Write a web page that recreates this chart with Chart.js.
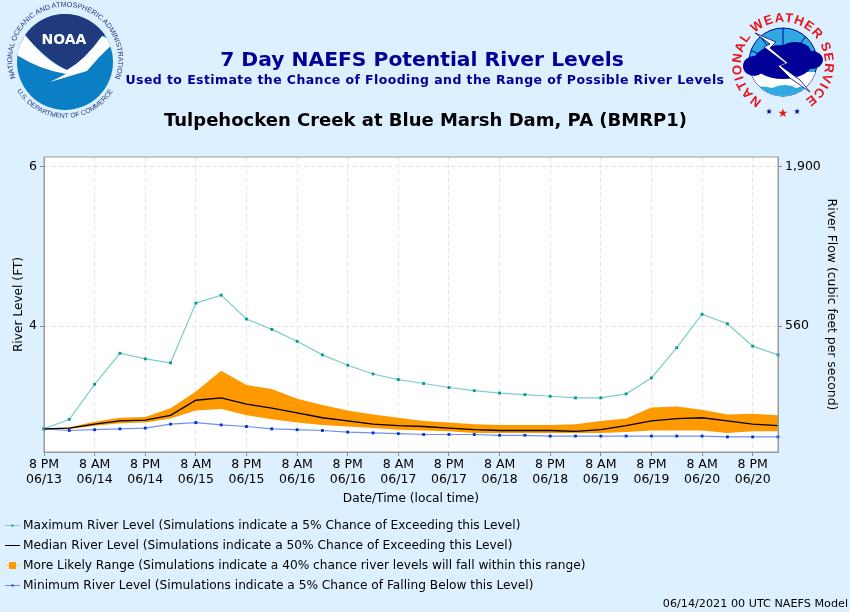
<!DOCTYPE html>
<html>
<head>
<meta charset="utf-8">
<title>7 Day NAEFS Potential River Levels</title>
<script src="https://cdn.jsdelivr.net/npm/chart.js@4/dist/chart.umd.min.js"></script>
<style>
    body { margin: 0; background: #ddf0ff; font-family: "DejaVu Sans", sans-serif; }
    #page { position: relative; width: 850px; height: 612px; overflow: hidden; }
    #chart { position: absolute; left: 0; top: 0; }
    .line { position: absolute; white-space: nowrap; text-align: center; }
    #title1 { left: 0; width: 844px; top: 47px; font-size: 20.3px; font-weight: bold; color: #000099; }
    #title2 { left: 0; width: 850px; top: 72px; font-size: 12.5px; font-weight: bold; color: #000099; letter-spacing: 0.42px; }
    #title3 { left: 0; width: 851px; top: 109px; font-size: 18px; font-weight: bold; color: #000; }
    #stamp { right: 2px; top: 597px; font-size: 11.2px; color: #000; }
    .legendRow { position: absolute; left: 5px; font-size: 12.2px; color: #000; white-space: nowrap; }
    .legendRow svg { position: absolute; left: 0; top: 0; }
    .legendRow span { position: absolute; left: 18px; top: 0; }
    svg.logo { position: absolute; left: 0; top: 0; }
</style>
</head>
<body>
<div id="page">
    <canvas id="chart" width="850" height="612"></canvas>

    <svg class="logo" width="850" height="130" viewBox="0 0 850 130">
        <defs>
            <path id="noaaTop" d="M 15.5 78 A 53 53 0 1 1 115 78"/>
            <path id="noaaBottom" d="M 12 80 A 56 56 0 0 0 118 80"/>
            <path id="nwsArc" d="M 762 100.4 A 42 42 0 1 1 804 100.4"/>
            <clipPath id="noaaClip"><circle cx="65" cy="62" r="48"/></clipPath>
            <clipPath id="nwsClip"><circle cx="783" cy="62" r="34"/></clipPath>
        </defs>
        <circle cx="65" cy="62" r="48" fill="#0a7fc6"/>
        <g clip-path="url(#noaaClip)">
            <path d="M 10 10 H 120 V 30 L 102 36 Q 85 60 67 70 Q 47 60 25 35 L 10 25 Z" fill="#1f3a7d"/>
            <path d="M 25 35 Q 47 62 67 70 Q 85 60 102 36 L 115 42 Q 100 55 87 71 L 50 82 L 66 74 Q 40 70 15 54 Z" fill="#fff"/>
        </g>
        <text x="64" y="44" text-anchor="middle" font-size="14" font-weight="bold" fill="#fff" font-family="DejaVu Sans">NOAA</text>
        <text font-size="7.2" fill="#1f3a7d" font-family="Liberation Sans"><textPath href="#noaaTop" startOffset="50%" text-anchor="middle">NATIONAL OCEANIC AND ATMOSPHERIC ADMINISTRATION</textPath></text>
        <text font-size="6.8" fill="#1f3a7d" font-family="Liberation Sans"><textPath href="#noaaBottom" startOffset="50%" text-anchor="middle">U.S. DEPARTMENT OF COMMERCE</textPath></text>

        <circle cx="783" cy="62" r="34" fill="#2fa9e0" stroke="#000099" stroke-width="1"/>
        <g clip-path="url(#nwsClip)">
            <path d="M 783 28 V 50 M 760 36 L 772 52 M 806 36 L 794 52 M 750 50 L 768 58 M 816 50 L 798 58" stroke="#000099" stroke-width="1"/>
            <rect x="749" y="72" width="68" height="26" fill="#fff"/>
            <path d="M 749 90 Q 760 84 772 88 Q 786 82 796 88 Q 808 84 817 88 V 100 H 749 Z" fill="#2fa9e0"/>
        </g>
        <g fill="#000099">
            <ellipse cx="783" cy="62" rx="30" ry="17"/>
            <ellipse cx="754" cy="66" rx="11" ry="10"/>
            <ellipse cx="812" cy="60" rx="11" ry="9"/>
            <ellipse cx="770" cy="56" rx="12" ry="9"/>
            <ellipse cx="795" cy="52" rx="16" ry="10"/>
        </g>
        <polygon points="755,33 776,42 770,48 788,63 781,66 800,80 810,92 790,78 778,66 785,63 764,47 770,44" fill="#fff" stroke="#000099" stroke-width="0.8"/>
        <text font-size="13" font-weight="bold" fill="#e8141c" font-family="Liberation Sans" textLength="218"><textPath href="#nwsArc">NATIONAL WEATHER SERVICE</textPath></text>
        <text x="769" y="114" text-anchor="middle" font-size="8" fill="#000099" font-family="DejaVu Sans">★</text>
        <text x="783" y="117" text-anchor="middle" font-size="12" fill="#e8141c" font-family="DejaVu Sans">★</text>
        <text x="797" y="114" text-anchor="middle" font-size="8" fill="#000099" font-family="DejaVu Sans">★</text>
    </svg>

    <div class="line" id="title1">7 Day NAEFS Potential River Levels</div>
    <div class="line" id="title2">Used to Estimate the Chance of Flooding and the Range of Possible River Levels</div>
    <div class="line" id="title3">Tulpehocken Creek at Blue Marsh Dam, PA (BMRP1)</div>
    <div id="legend"></div>
    <div class="line" id="stamp">06/14/2021 00 UTC NAEFS Model</div>
</div>

<script>
const dates = ['06/13', '06/14', '06/14', '06/14', '06/14', '06/15', '06/15', '06/15', '06/15', '06/16',
    '06/16', '06/16', '06/16', '06/17', '06/17', '06/17', '06/17', '06/18', '06/18', '06/18',
    '06/18', '06/19', '06/19', '06/19', '06/19', '06/20', '06/20', '06/20', '06/20', '06/21'];
const stepHours = ['8 PM', '2 AM', '8 AM', '2 PM', '8 PM', '2 AM', '8 AM', '2 PM', '8 PM', '2 AM',
    '8 AM', '2 PM', '8 PM', '2 AM', '8 AM', '2 PM', '8 PM', '2 AM', '8 AM', '2 PM',
    '8 PM', '2 AM', '8 AM', '2 PM', '8 PM', '2 AM', '8 AM', '2 PM', '8 PM', '2 AM'];

const maxLevel = [2.71, 2.83, 3.27, 3.66, 3.59, 3.54, 4.29, 4.39, 4.09, 3.96,
    3.81, 3.64, 3.51, 3.40, 3.33, 3.28, 3.23, 3.19, 3.16, 3.14,
    3.12, 3.10, 3.10, 3.15, 3.35, 3.73, 4.15, 4.03, 3.75, 3.64];
const medianLevel = [2.71, 2.72, 2.77, 2.81, 2.82, 2.88, 3.07, 3.10, 3.02, 2.97,
    2.91, 2.85, 2.81, 2.77, 2.75, 2.74, 2.72, 2.70, 2.69, 2.69,
    2.69, 2.68, 2.70, 2.75, 2.81, 2.84, 2.85, 2.81, 2.77, 2.75];
const rangeUpper = [2.71, 2.73, 2.80, 2.85, 2.86, 2.97, 3.18, 3.44, 3.26, 3.21,
    3.09, 3.01, 2.94, 2.89, 2.85, 2.81, 2.79, 2.77, 2.76, 2.76,
    2.76, 2.77, 2.81, 2.84, 2.98, 2.99, 2.95, 2.89, 2.90, 2.88];
const rangeLower = [2.71, 2.71, 2.75, 2.78, 2.79, 2.84, 2.94, 2.96, 2.88, 2.83,
    2.79, 2.76, 2.74, 2.72, 2.70, 2.69, 2.68, 2.66, 2.66, 2.66,
    2.66, 2.66, 2.66, 2.67, 2.69, 2.69, 2.69, 2.66, 2.68, 2.68];
const minLevel = [2.71, 2.69, 2.70, 2.71, 2.72, 2.77, 2.79, 2.76, 2.74, 2.71,
    2.70, 2.69, 2.67, 2.66, 2.65, 2.64, 2.64, 2.64, 2.63, 2.63,
    2.62, 2.62, 2.62, 2.62, 2.62, 2.62, 2.62, 2.61, 2.61, 2.61];

const levelTicks = [4, 6];
const flowTicks = { 4: '560', 6: '1,900' };

const labels = stepHours.map((hour, i) => [hour, dates[i]]);

const legendItems = [
    { text: 'Maximum River Level (Simulations indicate a 5% Chance of Exceeding this Level)', line: '#7fcccc', dot: '#009999', size: 2 },
    { text: 'Median River Level (Simulations indicate a 50% Chance of Exceeding this Level)', line: '#000000', dot: null, size: 0 },
    { text: 'More Likely Range (Simulations indicate a 40% chance river levels will fall within this range)', line: '#ffcc80', dot: '#ff9900', size: 7 },
    { text: 'Minimum River Level (Simulations indicate a 5% Chance of Falling Below this Level)', line: '#7090ee', dot: '#0033cc', size: 2 }
];

function renderLegend() {
    const legend = document.getElementById('legend');
    legendItems.forEach((item, index) => {
        const row = document.createElement('div');
        row.className = 'legendRow';
        row.style.top = (518 + index * 20) + 'px';
        const mark = item.dot
            ? `<rect x="${7.5 - item.size / 2}" y="${7.5 - item.size / 2}" width="${item.size}" height="${item.size}" fill="${item.dot}"/>`
            : '';
        row.innerHTML = `
            <svg width="16" height="14"><line x1="0" y1="7.5" x2="15" y2="7.5" stroke="${item.line}" stroke-width="1"/>${mark}</svg>
            <span>${item.text}</span>
        `;
        legend.appendChild(row);
    });
}

// white plot background and the grey frame around it
const plotFrame = {
    id: 'plotFrame',
    beforeDraw(chart) {
        const area = chart.chartArea;
        chart.ctx.save();
        chart.ctx.fillStyle = '#ffffff';
        chart.ctx.fillRect(area.left, area.top, area.right - area.left, area.bottom - area.top);
        chart.ctx.restore();
    },
    afterDatasetsDraw(chart) {
        const area = chart.chartArea;
        const ctx = chart.ctx;
        ctx.save();
        ctx.strokeStyle = '#999999';
        ctx.lineWidth = 1;
        ctx.strokeRect(area.left, area.top, area.right - area.left, area.bottom - area.top);
        ctx.restore();
    }
};

const gridStyle = { color: '#e4e4e4', lineWidth: 1, tickColor: '#888888', tickLength: 4 };
const borderStyle = { display: true, dash: [4, 3], color: '#999999' };
const fontBase = { family: 'DejaVu Sans', size: 12.2 };

new Chart(document.getElementById('chart').getContext('2d'), {
    type: 'line',
    data: {
        labels: labels,
        datasets: [
            { label: 'Maximum River Level', data: maxLevel, borderColor: '#7fcccc', borderWidth: 1.2, pointStyle: 'rect', pointRadius: 2, pointBackgroundColor: '#009999', pointBorderWidth: 0, tension: 0, order: 1 },
            { label: 'Median River Level', data: medianLevel, borderColor: '#000000', borderWidth: 1.3, pointRadius: 0, tension: 0, order: 0 },
            { label: 'More Likely Range', data: rangeUpper, borderWidth: 0, pointRadius: 0, backgroundColor: '#ff9900', fill: '+1', tension: 0, order: 3 },
            { label: 'Range Lower', data: rangeLower, borderWidth: 0, pointRadius: 0, fill: false, tension: 0, order: 3 },
            { label: 'Minimum River Level', data: minLevel, borderColor: '#7090ee', borderWidth: 1.2, pointStyle: 'rect', pointRadius: 2, pointBackgroundColor: '#0033cc', pointBorderWidth: 0, tension: 0, order: 2 }
        ]
    },
    options: {
        responsive: false,
        animation: false,
        layout: { padding: { left: 0, right: 0, top: 157, bottom: 106 } },
        plugins: { legend: { display: false }, tooltip: { enabled: false } },
        scales: {
            x: {
                offset: false,
                grid: { ...gridStyle },
                border: { ...borderStyle },
                ticks: {
                    autoSkip: false,
                    maxRotation: 0,
                    minRotation: 0,
                    padding: 1,
                    color: '#000',
                    font: { family: 'DejaVu Sans', size: 12.5 },
                    callback: function(value, index) {
                        return index % 2 === 0 ? this.getLabelForValue(value) : null;
                    }
                },
                title: { display: true, text: 'Date/Time (local time)', color: '#000', font: fontBase, padding: { top: 0, bottom: 0 } },
                afterFit: scale => { scale.height = 54; }
            },
            y: {
                min: 2.42,
                max: 6.125,
                afterBuildTicks: scale => { scale.ticks = levelTicks.map(v => ({ value: v })); },
                grid: { ...gridStyle },
                border: { ...borderStyle },
                ticks: { color: '#000', font: { family: 'DejaVu Sans', size: 12.5 }, padding: 3 },
                title: { display: true, text: 'River Level (FT)', color: '#000', font: fontBase, padding: { top: 12, bottom: 0 } },
                afterFit: scale => { scale.width = 44; }
            },
            y2: {
                position: 'right',
                min: 2.42,
                max: 6.125,
                afterBuildTicks: scale => { scale.ticks = levelTicks.map(v => ({ value: v })); },
                grid: { drawOnChartArea: false, tickColor: '#888888', tickLength: 4 },
                border: { display: true, color: '#999999' },
                ticks: {
                    color: '#000',
                    font: { family: 'DejaVu Sans', size: 12.5 },
                    padding: 3,
                    callback: value => flowTicks[value]
                },
                title: { display: true, text: 'River Flow (cubic feet per second)', color: '#000', font: { family: 'DejaVu Sans', size: 12.4 }, padding: { top: 11, bottom: 0 } },
                afterFit: scale => { scale.width = 72; }
            }
        }
    },
    plugins: [plotFrame]
});

renderLegend();
</script>
</body>
</html>
